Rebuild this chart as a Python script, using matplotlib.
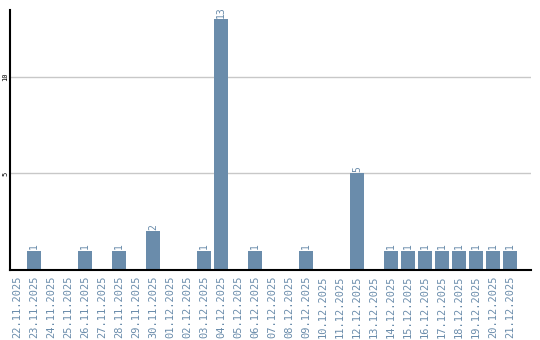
import matplotlib
matplotlib.use("Agg")
import matplotlib.pyplot as plt

# ── Data ─────────────────────────────────────────────────────────────────────
dates = [
    "22.11.2025", "23.11.2025", "24.11.2025", "25.11.2025", "26.11.2025",
    "27.11.2025", "28.11.2025", "29.11.2025", "30.11.2025", "01.12.2025",
    "02.12.2025", "03.12.2025", "04.12.2025", "05.12.2025", "06.12.2025",
    "07.12.2025", "08.12.2025", "09.12.2025", "10.12.2025", "11.12.2025",
    "12.12.2025", "13.12.2025", "14.12.2025", "15.12.2025", "16.12.2025",
    "17.12.2025", "18.12.2025", "19.12.2025", "20.12.2025", "21.12.2025",
]
counts = [0, 1, 0, 0, 1, 0, 1, 0, 2, 0,
          0, 1, 13, 0, 1, 0, 0, 1, 0, 0,
          5, 0, 1, 1, 1, 1, 1, 1, 1, 1]
ytick_vals = [5, 10]

BAR = "#6a8cab"
TXT = "#6a8cab"

# ── Plot ─────────────────────────────────────────────────────────────────────
fig = plt.figure(figsize=(5.4, 3.4), dpi=100)
ax = fig.add_axes([10 / 540, 70 / 340, 521 / 540, 260 / 340])

x = list(range(len(dates)))
ax.bar(x, counts, width=0.82, color=BAR, zorder=2)

for xi, c in zip(x, counts):
    if c > 0:
        ax.text(xi, c + 0.08, str(c), rotation=90, ha="center", va="bottom",
                color=TXT, fontsize=7, family="DejaVu Sans Mono")

ax.set_xlim(-0.41, 30.24)
ax.set_ylim(0, 13.47)

ax.set_yticks(ytick_vals)
ax.set_yticklabels([str(v) for v in ytick_vals], rotation=90, va="center",
                   fontsize=5, family="DejaVu Sans Mono")
ax.yaxis.grid(True, color="#c8c8c8", linewidth=1, zorder=0)
ax.tick_params(axis="y", length=0, pad=1)

ax.set_xticks(x)
ax.set_xticklabels(dates, rotation=90, fontsize=7.5, color=TXT,
                   family="DejaVu Sans Mono")
ax.tick_params(axis="x", length=0, pad=4)

for side in ("top", "right"):
    ax.spines[side].set_visible(False)
ax.spines["left"].set_linewidth(1.5)
ax.spines["bottom"].set_linewidth(1.5)

fig.savefig("out.png", dpi=100)
